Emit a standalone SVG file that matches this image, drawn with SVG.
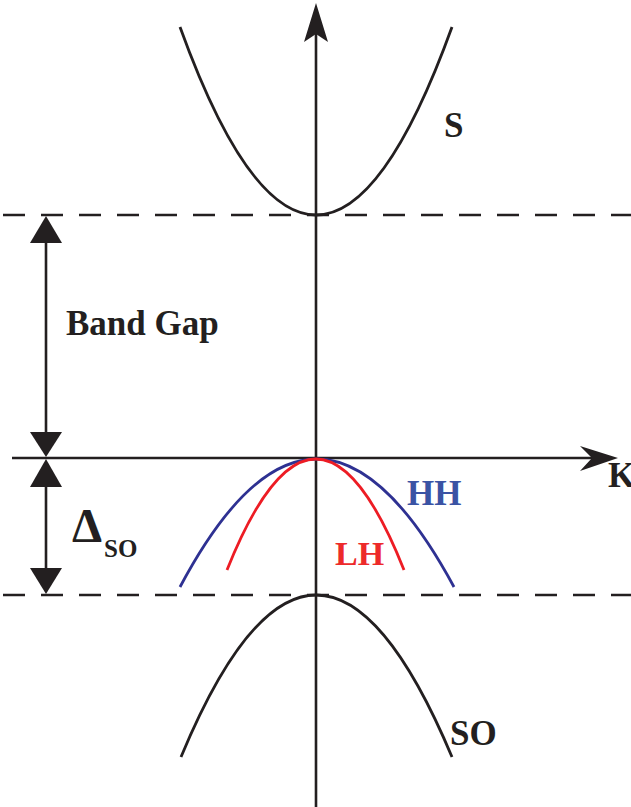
<svg xmlns="http://www.w3.org/2000/svg" width="631" height="807" viewBox="0 0 631 807">
<style>
.ax{stroke:#231f20;stroke-width:2.6;fill:none}
.dash{stroke:#231f20;stroke-width:2.6;fill:none;stroke-dasharray:22 16}
.curve{fill:none;stroke-width:2.8;stroke-linecap:butt}
.head{fill:#231f20;stroke:none}
.lbl{font-family:"Liberation Serif","Times New Roman",serif;font-weight:bold;fill:#231f20}
</style>
<rect width="631" height="807" fill="#fff"/>
<g id="connectors">
  <line class="dash" x1="3" y1="215" x2="631" y2="215"/>
  <line class="dash" x1="3" y1="595" x2="631" y2="595"/>
  <line class="ax" x1="12" y1="458" x2="605" y2="458"/>
  <polygon class="head" points="618,458 580,446 592,458 580,471"/>
  <line class="ax" x1="316" y1="807" x2="316" y2="20"/>
  <polygon class="head" points="316,3 304,42 316,34 328,42"/>
  <line class="ax" x1="46" y1="235" x2="46" y2="440"/>
  <polygon class="head" points="46,216 30,243 62,243"/>
  <polygon class="head" points="46,457 30,432 62,432"/>
  <line class="ax" x1="46" y1="475" x2="46" y2="580"/>
  <polygon class="head" points="46,459 30,487 62,487"/>
  <polygon class="head" points="46,594 30,568 62,568"/>
</g>
<g id="S-band">
  <path class="curve" stroke="#231f20" d="M180,27 Q316,403 452,27"/>
  <text class="lbl" x="444" y="137" font-size="35">S</text>
</g>
<g id="HH-band">
  <path class="curve" stroke="#2e3192" d="M180,587 Q316,331 454,587"/>
  <text class="lbl" x="407" y="505" font-size="35" style="fill:#3a53a4">HH</text>
</g>
<g id="LH-band">
  <path class="curve" stroke="#ed1c24" d="M227,570 Q316,348 404,570"/>
  <text class="lbl" x="335" y="565" font-size="34" style="fill:#ed2a2a">LH</text>
</g>
<g id="SO-band">
  <path class="curve" stroke="#231f20" d="M181,757 Q316,433 452,757"/>
  <text class="lbl" x="450" y="745" font-size="35">SO</text>
</g>
<g id="K-label">
  <text class="lbl" x="608" y="487" font-size="35">K</text>
</g>
<g id="band-gap">
  <text class="lbl" x="66" y="335" font-size="35">Band Gap</text>
</g>
<g id="delta-so">
  <text class="lbl" x="72" y="542" font-size="48">Δ<tspan font-size="25" x="104" y="557">SO</tspan></text>
</g>
</svg>
